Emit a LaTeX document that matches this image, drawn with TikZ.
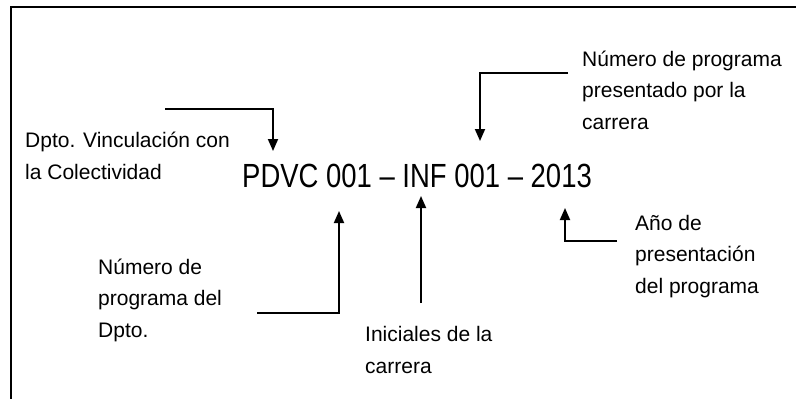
\documentclass[tikz,border=0pt]{standalone}
\usepackage{fontspec}
\setmainfont{Liberation Sans}
\newfontfamily\narrowfont[FakeStretch=0.82]{Liberation Sans}
\usetikzlibrary{arrows.meta,positioning}

\begin{document}
\begin{tikzpicture}[x=1pt, y=-1pt,
    every node/.style={inner sep=0pt, font=\fontsize{21}{31.5}\selectfont},
    lbl/.style={align=left, anchor=base west},
    pointer/.style={line width=1.8pt, -{Triangle[length=12pt, width=10pt]}}]
  \useasboundingbox (0,0) rectangle (796,399);
  % frame
  \draw[line width=2.4pt] (11,399) -- (11,7) -- (796,7);
  % code
  \node[anchor=base west, font=\narrowfont\fontsize{33.5}{40}\selectfont] (code) at (242,187) {PDVC 001 – INF 001 – 2013};
  % labels (placed by their last line)
  \node[lbl] (dpto) at (25,179) {Dpto. Vinculación con\\la Colectividad};
  \node[lbl] (numcarrera) at (582,129) {Número de programa\\presentado por la\\carrera};
  \node[lbl] (numdpto) at (98,337) {Número de\\programa del\\Dpto.};
  \node[lbl] (iniciales) at (365,373) {Iniciales de la\\carrera};
  \node[lbl] (anio) at (635,293) {Año de\\presentación\\del programa};
  % pointer ends
  \coordinate (p1s) at (165,109);
  \coordinate (p1t) at (273,151);
  \coordinate (p2s) at (568,73);
  \coordinate (p2t) at (480,141);
  \coordinate (p3s) at (257,313);
  \coordinate (p3t) at (339,211);
  \coordinate (p4s) at (421,303);
  \coordinate (p4t) at (421,196);
  \coordinate (p5s) at (617,241);
  \coordinate (p5t) at (565,208);
  % pointers
  \draw[pointer] (p1s) -| (p1t);
  \draw[pointer] (p2s) -| (p2t);
  \draw[pointer] (p3s) -| (p3t);
  \draw[pointer] (p4s) -- (p4t);
  \draw[pointer] (p5s) -| (p5t);
\end{tikzpicture}
\end{document}
